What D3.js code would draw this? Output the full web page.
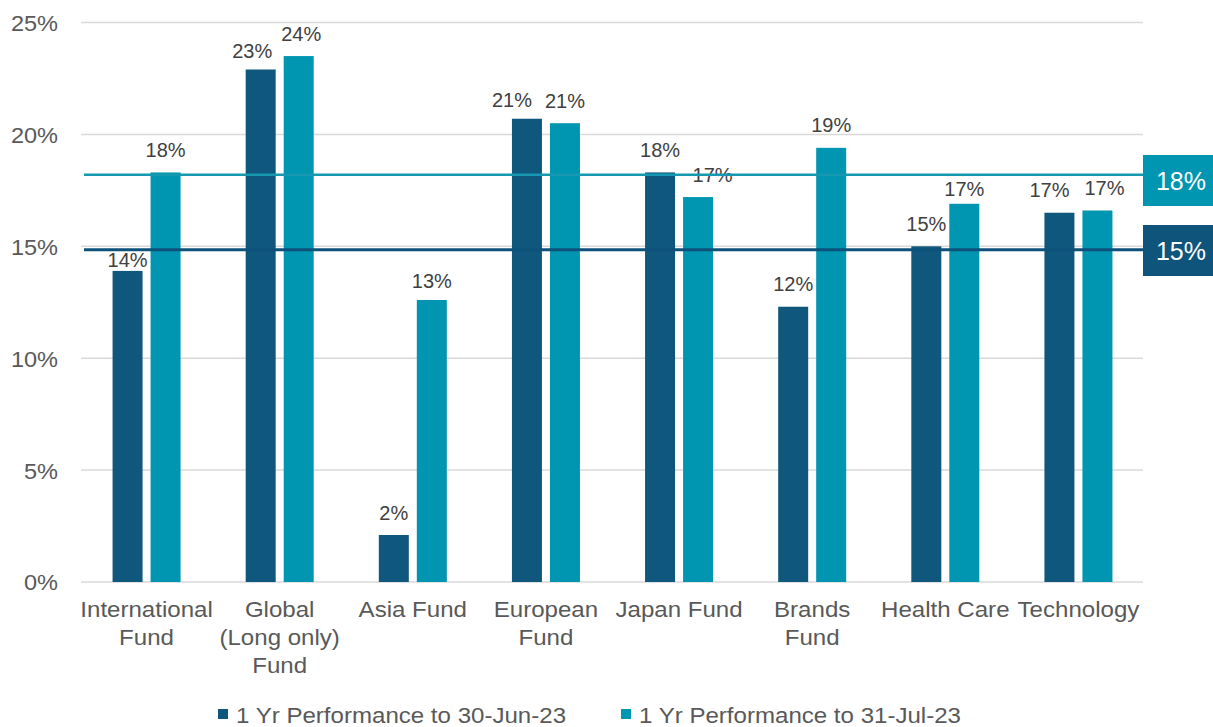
<!DOCTYPE html>
<html>
<head>
<meta charset="utf-8">
<script src="https://cdn.jsdelivr.net/npm/d3@7"></script>
<style>
  body { margin: 0; background: #fff; }
  svg { display: block; font-family: "Liberation Sans", Arial, sans-serif; }
</style>
</head>
<body>
<svg id="chart" width="1213" height="727"></svg>
<script>
// ---- data ----
const categories = [
  ["International", "Fund"],
  ["Global", "(Long only)", "Fund"],
  ["Asia Fund"],
  ["European", "Fund"],
  ["Japan Fund"],
  ["Brands", "Fund"],
  ["Health Care"],
  ["Technology"]
];
const seriesNames = ["1 Yr Performance to 30-Jun-23", "1 Yr Performance to 31-Jul-23"];
const perfJun = [13.9, 22.9, 2.1, 20.7, 18.3, 12.3, 15.0, 16.5];
const perfJul = [18.3, 23.5, 12.6, 20.5, 17.2, 19.4, 16.9, 16.6];
const refValues = [18.2, 14.85];
const refLabels = ["18%", "15%"];
const yTicks = [0, 5, 10, 15, 20, 25];

// ---- style ----
const colors = ["#10577d", "#0095b0"];
const refColors = ["#1598b0", "#0d527a"];
const boxColors = ["#0095b0", "#0f547b"];
const textColor = "#595959";
const labelColor = "#404040";
const STRETCH = 1.07;

const svg = d3.select("#chart");
const plot = { left: 80, right: 1145, top: 22.5, bottom: 582 };

const y = d3.scaleLinear().domain([0, 25]).range([plot.bottom, plot.top]);
const x0 = d3.scaleBand().domain(d3.range(categories.length)).range([plot.left, plot.right]).padding(0);
const groupW = 68;
const x1 = d3.scaleBand().domain([0, 1])
  .range([(x0.bandwidth() - groupW) / 2, (x0.bandwidth() + groupW) / 2])
  .paddingInner(8 / 38).paddingOuter(0);

const stretchAt = cx => `translate(${cx},0) scale(${STRETCH},1) translate(${-cx},0)`;

// gridlines
svg.append("g").selectAll("line").data(yTicks).join("line")
  .attr("x1", plot.left + 1).attr("x2", plot.right - 2)
  .attr("y1", d => y(d)).attr("y2", d => y(d))
  .attr("stroke", "#d9d9d9").attr("stroke-width", 1.5);

// y axis labels
const yAxis = d3.axisLeft(y).tickValues(yTicks).tickFormat(d => d + "%").tickSize(0).tickPadding(0);
const yg = svg.append("g").attr("transform", `translate(58,0)`).call(yAxis);
yg.select(".domain").remove();
yg.selectAll("text").attr("fill", textColor).style("font-size", "22px")
  .style("font-family", "'Liberation Sans', Arial, sans-serif").attr("dy", "0.36em")
  .attr("x", 0).attr("transform", stretchAt(0));

// bars
const series = [perfJun, perfJul];
const groups = svg.append("g").selectAll("g").data(categories).join("g")
  .attr("transform", (d, i) => `translate(${x0(i)},0)`);

groups.selectAll("rect").data((d, i) => series.map((s, k) => ({ k, v: s[i], i }))).join("rect")
  .attr("x", d => x1(d.k)).attr("width", x1.bandwidth())
  .attr("y", d => y(d.v)).attr("height", d => y(0) - y(d.v))
  .attr("fill", d => colors[d.k]);

// data labels (with label-placement nudges as in the original chart)
const labelNudge = {
  "0-0": [0, 12], "1-0": [-8.5, 4], "1-1": [2.5, 0], "2-1": [0, 3.5],
  "3-0": [-15, 3.5], "4-1": [14.5, 0], "6-1": [0, 8], "7-0": [-10, 0], "7-1": [7, 0]
};
groups.selectAll("text.val").data((d, i) => series.map((s, k) => ({ k, v: s[i], i }))).join("text")
  .attr("class", "val")
  .attr("x", d => x1(d.k) + x1.bandwidth() / 2 + (labelNudge[d.i + "-" + d.k] || [0, 0])[0])
  .attr("y", d => y(d.v) - 15.5 + (labelNudge[d.i + "-" + d.k] || [0, 0])[1])
  .attr("text-anchor", "middle")
  .attr("fill", labelColor).style("font-size", "20px")
  .text(d => Math.round(d.v) + "%");

// category labels
groups.append("text")
  .attr("text-anchor", "middle")
  .attr("transform", stretchAt(x0.bandwidth() / 2))
  .attr("fill", textColor).style("font-size", "22.5px")
  .selectAll("tspan").data(d => d).join("tspan")
  .attr("x", x0.bandwidth() / 2)
  .attr("y", (d, j) => 617 + j * 28)
  .text(d => d);

// reference lines + boxes
refValues.forEach((v, k) => {
  svg.append("line")
    .attr("x1", 84).attr("x2", 1143)
    .attr("y1", y(v)).attr("y2", y(v))
    .attr("stroke", refColors[k]).attr("stroke-width", k === 0 ? 2.5 : 3);
});
const boxTop = [155, 225];
refValues.forEach((v, k) => {
  svg.append("rect").attr("x", 1143).attr("y", boxTop[k]).attr("width", 70).attr("height", 51)
    .attr("fill", boxColors[k]);
  svg.append("text").attr("x", 1181).attr("y", boxTop[k] + 25.5).attr("dy", "0.36em")
    .attr("text-anchor", "middle").attr("fill", "#fff").style("font-size", "25px")
    .text(refLabels[k]);
});

// legend
const legendX = [218, 621];
seriesNames.forEach((name, k) => {
  svg.append("rect").attr("x", legendX[k]).attr("y", 709).attr("width", 10).attr("height", 10)
    .attr("fill", colors[k]);
  const tx = legendX[k] + 18;
  svg.append("text").attr("x", tx).attr("y", 723)
    .attr("transform", stretchAt(tx))
    .attr("fill", textColor).style("font-size", "22.5px").text(name);
});
</script>
</body>
</html>
